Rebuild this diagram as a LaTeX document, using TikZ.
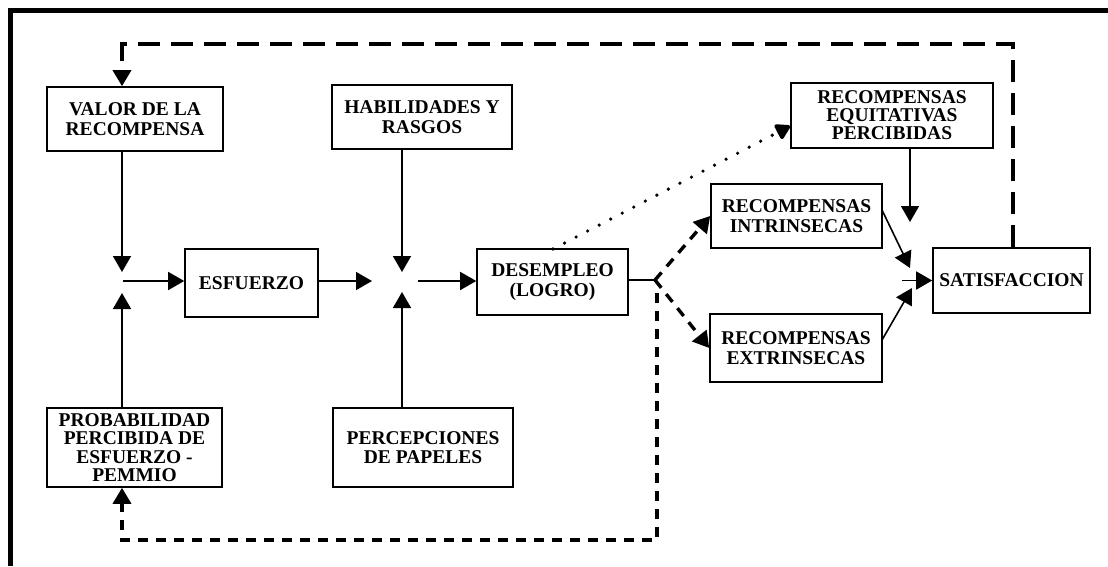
\documentclass[tikz,border=0pt]{standalone}
\usepackage{fontspec}
\setmainfont{Liberation Serif}
\usetikzlibrary{arrows.meta}
\begin{document}
\begin{tikzpicture}[x=1pt,y=-1pt,
  box/.style={draw,line width=1.6pt,inner sep=0pt,align=center,
    font=\bfseries\fontsize{19.5}{19.5}\selectfont},
  tipA/.style={-{Triangle[length=16pt,width=18pt]}},
  conn/.style={line width=1.6pt,tipA},
  dshS/.style={line width=3.4pt,dash pattern=on 10pt off 8pt,tipA},
  dshL/.style={line width=3.4pt,dash pattern=on 22pt off 11pt,tipA},
  dots/.style={line width=3.6pt,dash pattern=on 0pt off 13pt,line cap=round,
    -{Triangle[length=16pt,width=18pt,round]}}]
\useasboundingbox (0,0) rectangle (1108,566);
\fill[white] (0,0) rectangle (1108,566);
\draw[line width=5pt] (10,566) -- (10,10) -- (1108,10);

% boxes
\node[box,minimum width=176pt,minimum height=64pt] (valor) at (135,119) {VALOR DE LA\\RECOMPENSA};
\node[box,minimum width=180pt,minimum height=64pt] (habil) at (422,117) {HABILIDADES Y\\RASGOS};
\node[box,minimum width=133pt,minimum height=68pt] (esf) at (251.5,283) {ESFUERZO};
\node[box,minimum width=151pt,minimum height=66pt] (desemp) at (552.5,282) {DESEMPLEO\\(LOGRO)};
\node[box,minimum width=202pt,minimum height=65pt,font=\bfseries\fontsize{19.5}{18}\selectfont] (equit) at (892,115.5) {RECOMPENSAS\\EQUITATIVAS\\PERCIBIDAS};
\node[box,minimum width=171pt,minimum height=64pt] (intrin) at (796.5,216) {RECOMPENSAS\\INTRINSECAS};
\node[box,minimum width=157pt,minimum height=65pt] (satis) at (1011.5,280.5) {SATISFACCION};
\node[box,minimum width=172pt,minimum height=68pt] (extrin) at (796,348) {RECOMPENSAS\\EXTRINSECAS};
\node[box,minimum width=175pt,minimum height=79pt,font=\bfseries\fontsize{19.5}{18.3}\selectfont] (prob) at (134.5,447.5) {PROBABILIDAD\\PERCIBIDA DE\\ESFUERZO -\\PEMMIO};
\node[box,minimum width=180pt,minimum height=79pt] (percep) at (423,447.5) {PERCEPCIONES\\DE PAPELES};

% junction coordinates
\coordinate (J1t) at (122,272);
\coordinate (J1b) at (122,293);
\coordinate (J1r) at (123,281);
\coordinate (J2t) at (402,272);
\coordinate (J2b) at (402,292);
\coordinate (J2l) at (372,281);
\coordinate (J2r) at (418,281);
\coordinate (B) at (655,280);
\coordinate (L0) at (657,293);
\coordinate (L1) at (657,540);
\coordinate (L2) at (122,540);
\coordinate (Ds) at (553,249);
\coordinate (Ee) at (790,126);
\coordinate (J3t) at (910,222);
\coordinate (Is) at (882,210);
\coordinate (Ie) at (910,268);
\coordinate (Xs) at (882,340);
\coordinate (Xe) at (912,288);
\coordinate (J3) at (902,280.5);
\coordinate (T1) at (1013,44);
\coordinate (T2) at (122,44);

% solid connectors
\draw[conn] (valor.south -| J1t) -- (J1t);
\draw[conn] (prob.north -| J1b) -- (J1b);
\draw[conn] (J1r) -- (esf.west |- J1r);
\draw[conn] (habil.south -| J2t) -- (J2t);
\draw[conn] (percep.north -| J2b) -- (J2b);
\draw[conn] (esf.east |- J2l) -- (J2l);
\draw[conn] (J2r) -- (desemp.west |- J2r);
\draw[line width=1.6pt] (desemp.east |- B) -- (B);
\draw[conn] (equit.south -| J3t) -- (J3t);
\draw[conn] (Is) -- (Ie);
\draw[conn] (Xs) -- (Xe);
\draw[conn] (J3) -- (satis.west);

% dashed connectors
\draw[dshS] (B) -- (intrin.west);
\draw[dshS] (B) -- (extrin.west);
\draw[dshS] (L0) -- (L1) -- (L2) -- (prob.south -| L2);
\draw[dshL] (satis.north -| T1) -- (T1) -- (T2) -- (valor.north -| T2);

% dotted connector
\draw[dots] (Ds) -- (Ee);
\end{tikzpicture}
\end{document}
